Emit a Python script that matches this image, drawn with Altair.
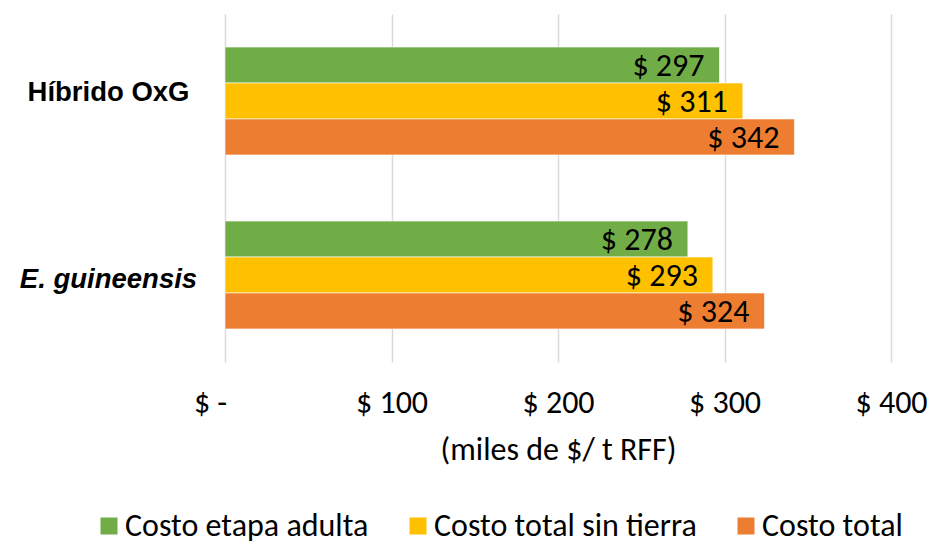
import altair as alt
import pandas as pd

categories = ["Híbrido OxG", "E. guineensis"]
series = ["Costo etapa adulta", "Costo total sin tierra", "Costo total"]
values_oxg = [297, 311, 342]
values_gui = [278, 293, 324]
colors = ["#70AD47", "#FFC000", "#ED7D31"]

rows = []
for cat, vals in zip(categories, [values_oxg, values_gui]):
    for i, (s, v) in enumerate(zip(series, vals)):
        rows.append({"cat": cat, "serie": s, "order": i, "value": v,
                     "lbl": "$ " + str(v)})
df = pd.DataFrame(rows)

FONT_NUM = "Carlito, Liberation Sans Narrow, Open Sans, sans-serif"
FS = 32

base = alt.Chart(df).encode(
    y=alt.Y("cat:N", sort=categories,
            scale=alt.Scale(paddingInner=0.38, paddingOuter=0.19),
            axis=alt.Axis(title=None, domain=False, ticks=False, grid=False,
                          labelFont="Liberation Sans", labelFontSize=27.5,
                          labelFontWeight="bold", labelColor="#000000",
                          labelAlign="center", labelPadding=117,
                          labelOffset={"condition": {"test": "datum.value == 'E. guineensis'", "value": 5}, "value": -8},
                          labelFontStyle={"condition": {"test": "datum.value == 'E. guineensis'", "value": "italic"}, "value": "normal"})),
    yOffset=alt.YOffset("serie:N", sort=series,
                        scale=alt.Scale(paddingInner=0, paddingOuter=0)),
)

bars = base.mark_bar(stroke="white", strokeWidth=0.6).encode(
    x=alt.X("value:Q", scale=alt.Scale(domain=[0, 400]),
            axis=alt.Axis(values=[0, 100, 200, 300, 400], title="(miles de $/ t RFF)",
                          labelExpr="datum.value == 0 ? '$ -' : '$ ' + datum.value",
                          labelOffset={"condition": {"test": "datum.value == 0", "value": -15}, "value": 0},
                          labelFlush=False, labelOverlap=False,
                          domain=False, ticks=False, gridColor="#D9D9D9", gridWidth=1.5,
                          labelFont=FONT_NUM, labelFontSize=FS, labelColor="#000000",
                          labelPadding=25, titleFont=FONT_NUM, titleFontSize=FS,
                          titleFontWeight="normal", titleColor="#000000", titlePadding=16)),
    color=alt.Color("serie:N", sort=series,
                    scale=alt.Scale(domain=series, range=colors),
                    legend=alt.Legend(title=None, orient="none", direction="horizontal",
                                      legendX=-132, legendY=496,
                                      symbolType="square", symbolSize=289,
                                      symbolStrokeWidth=0, labelFont=FONT_NUM,
                                      labelFontSize=FS, labelColor="#000000",
                                      labelOffset=0, columnPadding=33,
                                      labelLimit=500)),
)

texts = base.mark_text(align="right", baseline="middle", dx=-15, dy=1,
                       font=FONT_NUM, fontSize=FS, color="#000000").encode(
    x="value:Q",
    text="lbl:N",
)

chart = alt.layer(bars, texts).properties(
    width=666, height=348,
    background="white",
    autosize=alt.AutoSizeParams(type="none"),
    padding={"left": 217, "top": 6, "right": 50, "bottom": 188},
).configure_view(stroke=None)

chart.save("out.html", embed_options={"renderer": "svg", "actions": False})
